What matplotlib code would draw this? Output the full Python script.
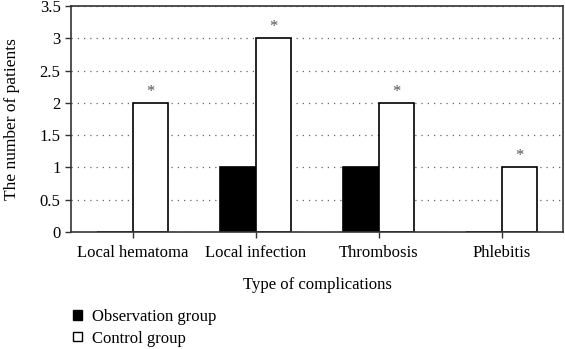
import matplotlib.pyplot as plt
import numpy as np
from matplotlib.patches import Patch

categories = ["Local hematoma", "Local infection", "Thrombosis", "Phlebitis"]
observation = [0, 1, 1, 0]
control = [2, 3, 2, 1]
marks = ["*", "*", "*", "*"]

plt.rcParams['font.family'] = ['Liberation Serif', 'DejaVu Serif']

fig = plt.figure(figsize=(5.65, 3.49), dpi=100)
ax = fig.add_axes([0.1257, 0.335, 0.8708, 0.648])

x = np.arange(len(categories))
w = 0.285

ax.set_axisbelow(True)
ax.yaxis.grid(True, linestyle=(0, (1, 4)), color='#666666', linewidth=0.9)

ax.bar(x - w / 2, observation, w, color='black', edgecolor='black', linewidth=1.2)
ax.bar(x + w / 2, control, w, color='white', edgecolor='black', linewidth=1.2)

for xi, v, m in zip(x, control, marks):
    ax.text(xi + w / 2, v + 0.05, m, ha='center', va='bottom', fontsize=12, color='#555555')

ax.set_xlim(-0.5, 3.5)
ax.set_ylim(0, 3.5)
ax.set_yticks(np.arange(0, 3.51, 0.5))
ax.set_yticklabels(["0", "0.5", "1", "1.5", "2", "2.5", "3", "3.5"])
ax.set_xticks(x)
ax.set_xticklabels(categories)
ax.tick_params(axis='both', labelsize=12, length=4, width=1, color='#333333')
ax.tick_params(axis='x', pad=5)

for s in ax.spines.values():
    s.set_linewidth(1.2)
    s.set_color('#333333')

ax.set_ylabel("The number of patients", fontsize=12.5, labelpad=14)
ax.set_xlabel("Type of complications", fontsize=12, labelpad=12)

handles = [Patch(facecolor='black', edgecolor='black', label='Observation group'),
           Patch(facecolor='white', edgecolor='black', label='Control group')]
fig.legend(handles=handles, loc='upper left', bbox_to_anchor=(0.118, 0.134),
           frameon=False, fontsize=12, handlelength=0.5, handleheight=0.5,
           handletextpad=0.6, labelspacing=0.34, borderaxespad=0)

fig.savefig("out.png", dpi=100)
